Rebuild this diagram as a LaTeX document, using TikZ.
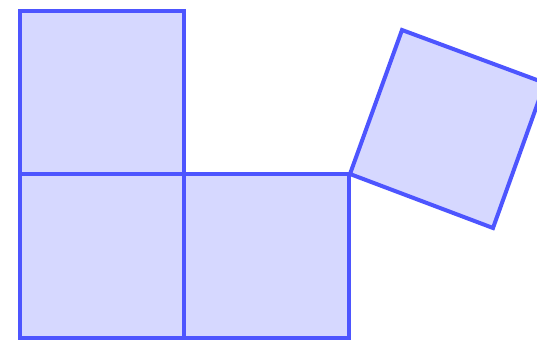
\documentclass[tikz,border=0pt]{standalone}
\definecolor{sqfill}{RGB}{214,216,255}
\definecolor{sqdraw}{RGB}{77,85,255}
\begin{document}
\begin{tikzpicture}[x=1pt,y=1pt,
  sq/.style={fill=sqfill,draw=sqdraw,line width=4pt,line join=miter}]
\useasboundingbox (0,0) rectangle (537,341);
\draw[sq] (20,167) rectangle (184,330);
\draw[sq] (20,3) rectangle (184,167);
\draw[sq] (184,3) rectangle (349,167);
\draw[sq] (350,167) -- (402,311) -- (545,258) -- (493,113) -- cycle;
\end{tikzpicture}
\end{document}
